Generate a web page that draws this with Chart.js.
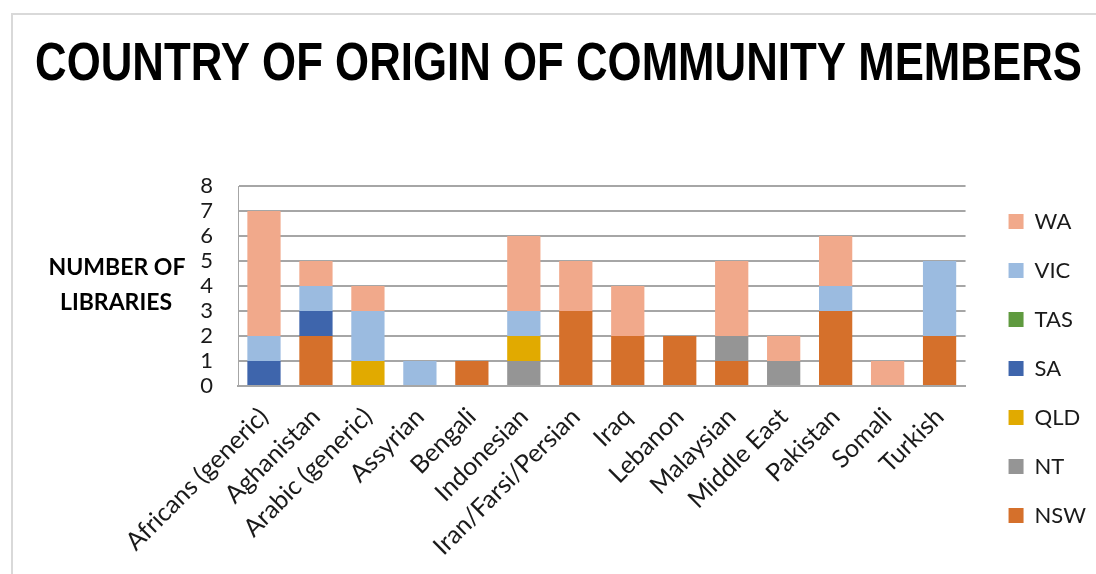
<!DOCTYPE html>
<html>
<head>
<meta charset="utf-8">
<title>Country of origin of community members</title>
<script src="https://cdn.jsdelivr.net/npm/chart.js@4.4.1/dist/chart.umd.min.js"></script>
<style>
  html, body { margin: 0; padding: 0; background: #ffffff; }
  #wrap { position: relative; width: 1096px; height: 574px; overflow: hidden; }
  canvas { display: block; }
</style>
</head>
<body>
<div id="wrap"><canvas id="chart" width="1096" height="574"></canvas></div>
<script>
// Community groups served
const categories = [
  'Africans (generic)', 'Aghanistan', 'Arabic (generic)', 'Assyrian', 'Bengali',
  'Indonesian', 'Iran/Farsi/Persian', 'Iraq', 'Lebanon', 'Malaysian',
  'Middle East', 'Pakistan', 'Somali', 'Turkish'
];

// Number of libraries per state, one value per group
const NSW = [0, 2, 0, 0, 1, 0, 3, 2, 2, 1, 0, 3, 0, 2];
const NT  = [0, 0, 0, 0, 0, 1, 0, 0, 0, 1, 1, 0, 0, 0];
const QLD = [0, 0, 1, 0, 0, 1, 0, 0, 0, 0, 0, 0, 0, 0];
const SA  = [1, 1, 0, 0, 0, 0, 0, 0, 0, 0, 0, 0, 0, 0];
const TAS = [0, 0, 0, 0, 0, 0, 0, 0, 0, 0, 0, 0, 0, 0];
const VIC = [1, 1, 2, 1, 0, 1, 0, 0, 0, 0, 0, 1, 0, 3];
const WA  = [5, 1, 1, 0, 0, 3, 2, 2, 0, 3, 1, 2, 1, 0];

const yTicks = [0, 1, 2, 3, 4, 5, 6, 7, 8];

const chartTitle = 'COUNTRY OF ORIGIN OF COMMUNITY MEMBERS';
const yTitleLines = ['NUMBER OF', 'LIBRARIES'];

const series = [
  { label: 'NSW', data: NSW, color: '#D5702B' },
  { label: 'NT',  data: NT,  color: '#959595' },
  { label: 'QLD', data: QLD, color: '#E1AA00' },
  { label: 'SA',  data: SA,  color: '#3E65AC' },
  { label: 'TAS', data: TAS, color: '#5F9A3F' },
  { label: 'VIC', data: VIC, color: '#9BBBE0' },
  { label: 'WA',  data: WA,  color: '#F1A98B' }
];

const FONT = 'Lato, "Open Sans", sans-serif';

// Frame, heading and horizontal axis caption drawn on the canvas
const decorations = {
  id: 'decorations',
  beforeDraw(chart) {
    const ctx = chart.ctx;
    ctx.save();
    ctx.strokeStyle = '#d9d9d9';
    ctx.lineWidth = 2;
    ctx.strokeRect(12, 14, 1200, 700);
    ctx.restore();
  },
  afterDraw(chart) {
    const ctx = chart.ctx;
    ctx.save();
    // heading, condensed to its band
    ctx.fillStyle = '#000000';
    ctx.font = 'bold 54px "Liberation Sans", Arial, sans-serif';
    ctx.textBaseline = 'alphabetic';
    ctx.textAlign = 'left';
    const w = ctx.measureText(chartTitle).width;
    const sx = 1047 / w;
    ctx.translate(35, 80);
    ctx.scale(sx, 1);
    ctx.fillText(chartTitle, 0, 0);
    ctx.restore();

    // value axis caption, set horizontally
    ctx.save();
    ctx.fillStyle = '#000000';
    ctx.font = 'bold 23px ' + FONT;
    ctx.textAlign = 'center';
    ctx.textBaseline = 'alphabetic';
    ctx.fillText(yTitleLines[0], 117, 275);
    ctx.fillText(yTitleLines[1], 116, 310);
    ctx.restore();
  }
};

new Chart(document.getElementById('chart'), {
  type: 'bar',
  data: {
    labels: categories,
    datasets: series.map(s => ({
      label: s.label,
      data: s.data,
      backgroundColor: s.color,
      borderWidth: 0,
      categoryPercentage: 1.0,
      barPercentage: 0.64
    }))
  },
  options: {
    responsive: false,
    animation: false,
    devicePixelRatio: 1,
    layout: { padding: { top: 180, left: 0, right: 0, bottom: 17 } },
    plugins: {
      title: { display: false },
      // thin band that sits above the plot only, keeping the legend column full height
      subtitle: {
        display: true,
        text: '',
        fullSize: false,
        padding: 0,
        font: { size: 6, lineHeight: 1 }
      },
      tooltip: { enabled: false },
      legend: {
        position: 'right',
        reverse: true,
        labels: {
          boxWidth: 15,
          boxHeight: 15,
          padding: 27,
          color: '#1a1a1a',
          font: { family: FONT, size: 22 }
        }
      }
    },
    scales: {
      x: {
        stacked: true,
        grid: { display: false, drawTicks: false },
        border: { display: true, color: '#a6a6a6', width: 2 },
        ticks: {
          autoSkip: false,
          maxRotation: 45,
          minRotation: 45,
          padding: 16,
          color: '#1a1a1a',
          font: { family: FONT, size: 25 }
        },
        afterFit(scale) { scale.height = 574 - 17 - 386; }
      },
      y: {
        stacked: true,
        min: 0,
        max: 8,
        afterBuildTicks(scale) { scale.ticks = yTicks.map(v => ({ value: v })); },
        grid: { color: '#a6a6a6', lineWidth: 2, drawTicks: false },
        border: { display: true, color: '#a6a6a6', width: 1 },
        ticks: {
          autoSkip: false,
          padding: 25,
          color: '#1a1a1a',
          font: { family: FONT, size: 22, lineHeight: 1 }
        },
        afterFit(scale) { scale.width = 238; }
      },
      spacer: {
        type: 'linear',
        position: 'right',
        display: true,
        grid: { display: false, drawTicks: false },
        border: { display: false },
        ticks: { display: false },
        afterFit(scale) { scale.width = 16; }
      }
    }
  },
  plugins: [decorations]
});
</script>
</body>
</html>
